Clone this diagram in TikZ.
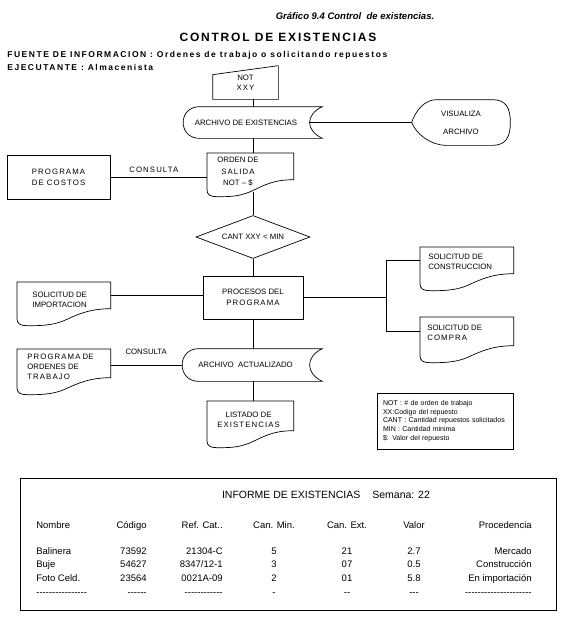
\documentclass[tikz,border=0pt]{standalone}
\usepackage{fontspec}
\setmainfont{Liberation Sans}
\usetikzlibrary{shapes.geometric, calc}

\newcommand{\diag}{\fontsize{7.8}{10}\selectfont}
\newcommand{\ley}{\fontsize{7}{8.75}\selectfont}
\newcommand{\grafico}{\fontsize{9.5}{11}\selectfont\bfseries\itshape}
\newcommand{\titulo}{\fontsize{12}{14}\selectfont\bfseries\addfontfeature{LetterSpace=15}}
\newcommand{\fuente}{\fontsize{8.5}{10}\selectfont\bfseries\addfontfeature{LetterSpace=18}}
\newcommand{\tabla}{\fontsize{9.5}{11}\selectfont}
\newcommand{\tabtit}{\fontsize{10.5}{12}\selectfont}
\newcommand{\esp}[1]{{\addfontfeature{LetterSpace=14}#1}}
\newcommand{\rayas}[1]{\foreach \k in {1,...,#1}{-}}

\tikzstyle{forma}=[inner sep=0pt, align=center, font=\diag]
\tikzstyle{caja}=[rectangle, draw, inner sep=0pt, align=center, font=\diag]
\tikzstyle{decision}=[diamond, draw, aspect=2.65, inner sep=0pt, font=\diag]
\tikzstyle{etiqueta}=[inner sep=1pt, font=\diag]
\tikzstyle{celda}=[inner sep=0pt, font=\tabla]

% documento: nombre, esquina, ancho, alto del cuerpo, desplazamiento del texto, texto
\newcommand{\docu}[7][left]{%
  \node[forma, minimum width=#4pt, minimum height=#5pt, anchor=north west] (#2) at (#3) {};
  \node[forma, align=#1, anchor=north west] (#2-txt) at ($(#2.north west)+(#6)$) {#7};
  \draw (#2.north west) -- (#2.north east) -- (#2.south east)
    .. controls +(-20,0) and +(15,-7) .. ($(#2.south west)!0.5!(#2.south east)+(0,12)$) coordinate (#2-b)
    .. controls +(-12,5) and +(12,0) .. ($(#2.south west)+(10,17)$)
    .. controls +(-7,0) and +(0,5) .. ($(#2.south west)+(0,10)$) -- cycle;
}
% archivo en disco
\newcommand{\archivo}[1]{%
  \draw ($(#1.north west)+(17,0)$) -- ($(#1.north east)+(13,0)$)
    .. controls +(-17,8) and +(-17,-8) .. ($(#1.south east)+(13,0)$)
    -- ($(#1.south west)+(17,0)$)
    .. controls +(-22,0) and +(-22,0) .. ($(#1.north west)+(17,0)$);
}
% pantalla
\newcommand{\pantalla}[1]{%
  \draw (#1.west) .. controls +(4,-12) and +(-12,0) .. ($(#1.north west)+(25,0)$)
    -- ($(#1.north east)+(-18,0)$) .. controls +(14,0) and +(0,-14) .. (#1.east)
    .. controls +(0,14) and +(14,0) .. ($(#1.south east)+(-18,0)$)
    -- ($(#1.south west)+(35,0)$) .. controls +(-16,0) and +(5,12) .. (#1.west);
}
% entrada manual
\newcommand{\entrada}[1]{%
  \draw ($(#1.north west)+(0,9)$) -- (#1.north east) -- (#1.south east) -- (#1.south west) -- cycle;
}
% fila del informe
\newcommand{\fila}[9]{%
  \node[celda, anchor=base west] (#2-nom) at (36,#1) {#3};
  \node[celda, anchor=base east] (#2-cod) at (147,#1) {#4};
  \node[celda, anchor=base east] (#2-ref) at (223,#1) {#5};
  \node[celda, anchor=base] (#2-min) at (274,#1) {#6};
  \node[celda, anchor=base] (#2-ext) at (347,#1) {#7};
  \node[celda, anchor=base] (#2-val) at (414,#1) {#8};
  \node[celda, anchor=base east] (#2-pro) at (532,#1) {#9};
}

\begin{document}
\begin{tikzpicture}[x=1pt, y=-1pt, line width=0.7pt]
	\useasboundingbox (0,0) rectangle (565,622);
	\coordinate (eje) at (253,0);

	% encabezado
	\node[font=\grafico] (grafico) at (355,16) {Gráfico 9.4 Control\ \ de existencias.};
	\node[font=\titulo] (titulo) at (278,37) {CONTROL DE EXISTENCIAS};
	\node[font=\fuente, anchor=west, inner sep=0pt] (fuente) at (7,55) {FUENTE DE INFORMACION : Ordenes de trabajo o solicitando repuestos};
	\node[font=\fuente, anchor=west, inner sep=0pt] (ejecuta) at (7,67) {EJECUTANTE : Almacenista};

	% diagrama
	\node[forma, minimum width=65pt, minimum height=33pt] (entrada) at (245.5,82.5) {NOT\\\esp{XXY}};
	\node[forma, minimum width=126pt, minimum height=31pt] (arch1) at (246,122.5) {ARCHIVO DE EXISTENCIAS};
	\node[forma, minimum width=98pt, minimum height=45pt] (visual) at (461,122.5) {VISUALIZA\\[8pt]ARCHIVO};
	\node[caja, minimum width=103pt, minimum height=44pt] (costos) at (58.5,177) {\esp{PROGRAMA}\\[1pt]\esp{DE COSTOS}};
	\docu[center]{orden}{207,153}{86}{26}{10,4}{ORDEN DE\\[1.5pt]\esp{SALIDA}\\[1.5pt]NOT -- \$}
	\node[decision, minimum width=114pt, minimum height=43pt] (rombo) at (253,237) {CANT XXY < MIN};
	\node[caja, minimum width=100pt, minimum height=43pt] (proceso) at (253,297.5) {PROCESOS DEL\\[1pt]\esp{PROGRAMA}};
	\docu{importa}{17,282}{93}{26}{15,10}{SOLICITUD DE\\IMPORTACION}
	\docu{constru}{420,247}{93}{26}{8,7}{SOLICITUD DE\\CONSTRUCCION}
	\docu{compra}{420,317}{93}{28}{7,8}{SOLICITUD DE\\\esp{COMPRA}}
	\node[forma, minimum width=127pt, minimum height=32pt] (arch2) at (245.5,365) {ARCHIVO\ \ ACTUALIZADO};
	\docu{ordenes}{17,349}{93}{28}{10,5}{\esp{PROGRAMA} DE\\ORDENES DE\\\esp{TRABAJO}}
	\docu[center]{listado}{207,401}{86}{29}{10,11}{LISTADO DE\\\esp{EXISTENCIAS}}

	\entrada{entrada}
	\archivo{arch1}
	\archivo{arch2}
	\pantalla{visual}

	\coordinate (rama) at ([xshift=83pt]proceso.east);
	\draw (entrada.south -| eje) -- (arch1.north -| eje);
	\draw (arch1.south -| eje) -- (orden.north -| eje);
	\draw (orden-b -| eje) -- (rombo.north);
	\draw (rombo.south) -- (proceso.north);
	\draw (proceso.south) -- (arch2.north -| eje);
	\draw (arch2.south -| eje) -- (listado.north -| eje);
	\draw (arch1.east) -- (visual.west);
	\draw (costos.east) -- (costos.east -| orden.west) node[etiqueta, pos=0.45, above=3pt] (consulta1) {\esp{CONSULTA}};
	\draw (importa.east) -- (importa.east -| proceso.west);
	\draw (proceso.east) -- (rama);
	\draw (constru.west) -| (rama) |- (compra.west);
	\draw (arch2.west -| ordenes.east) -- (arch2.west) node[etiqueta, pos=0.5, above=9pt] (consulta2) {CONSULTA};

	% leyenda
	\node[draw, font=\ley, align=left, text width=124pt, inner xsep=6pt, inner ysep=0pt, minimum height=56pt] (leyenda) at (445,421) {NOT : \# de orden de trabajo\\XX:Codigo del repuesto\\CANT : Cantidad repuestos solicitados\\MIN : Cantidad minima\\\$: Valor del repuesto};

	% informe
	\node[draw, minimum width=536pt, minimum height=132pt, inner sep=0pt] (informe) at (288,544) {};
	\node[font=\tabtit, anchor=base] (titinf) at (326,498) {INFORME DE EXISTENCIAS\hspace{12pt}Semana: 22};
	\fila{528}{cab}{Nombre}{Código}{Ref. Cat..}{Can. Min.}{Can. Ext.}{Valor}{Procedencia}
	\fila{554}{f1}{Balinera}{73592}{21304-C}{5}{21}{2.7}{Mercado}
	\fila{567.5}{f2}{Buje}{54627}{8347/12-1}{3}{07}{0.5}{Construcción}
	\fila{581}{f3}{Foto Celd.}{23564}{0021A-09}{2}{01}{5.8}{En importación}
	\fila{595}{f4}{\rayas{16}}{\rayas{6}}{\rayas{12}}{-}{\rayas{2}}{\rayas{3}}{\rayas{21}}
\end{tikzpicture}
\end{document}
